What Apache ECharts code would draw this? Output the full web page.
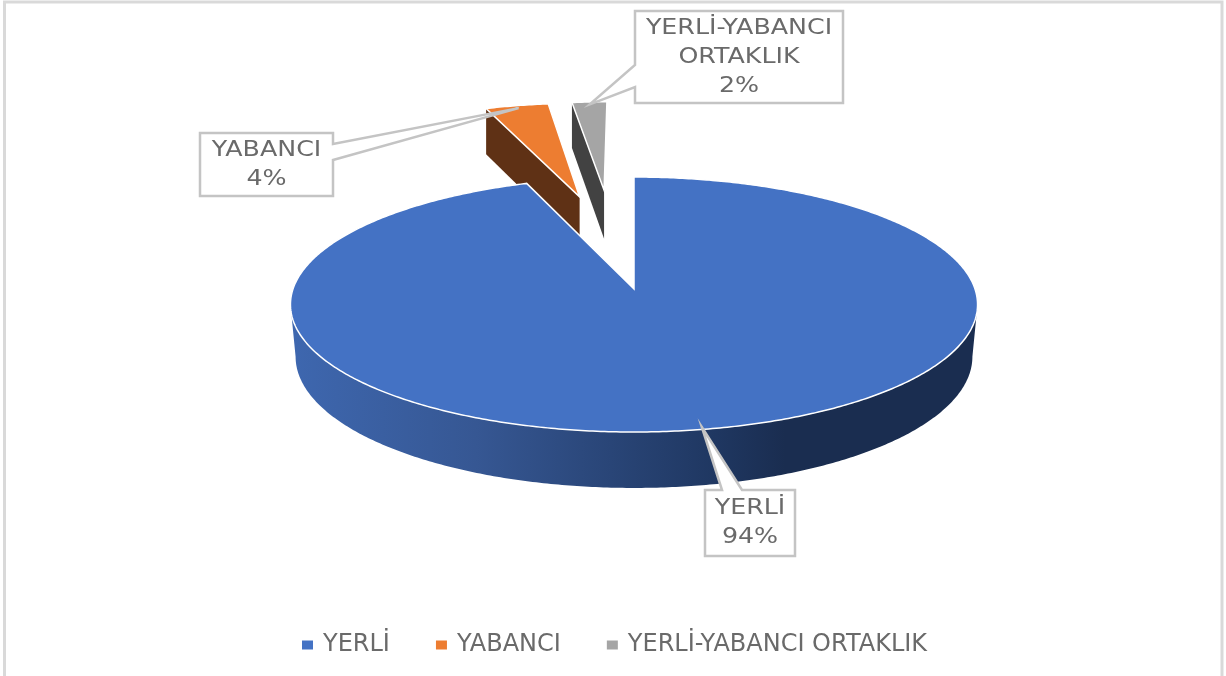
<!DOCTYPE html>
<html><head><meta charset="utf-8">
<style>html,body{margin:0;padding:0;background:#fff}#c{width:1226px;height:676px}</style>
<script src="https://cdn.jsdelivr.net/npm/echarts@6/dist/echarts.min.js"></script>
</head><body><div id="c"></div>
<script>
const categories = ['YERLİ', 'YABANCI', 'YERLİ-YABANCI ORTAKLIK'];
const shares = [94.3, 3.6, 2.1];
const calloutLines = [['YERLİ'], ['YABANCI'], ['YERLİ-YABANCI', 'ORTAKLIK']];
const topColors = ['#4472C4', '#ED7D31', '#A5A5A5'];
const sideColors = ['#2b4a80', '#5F3115', '#424242'];

// disk projection (perspective view of the tilted pie)
const view = {cx: 634, cy: 289, f: 341, g: 125.6, k: 0.1216, depth: 51.7, depthK: 0.076};
// exploded offsets and radius per slice, in disk units
const explode = [{dx: 0, dz: 0, r: 1}, {dx: -0.175, dz: -0.805, r: 1}, {dx: -0.097, dz: -0.87, r: 0.95}];
// callout boxes: box rect and where the pointer leaves it
const boxes = [
  {x: 705, y: 490, w: 90, h: 66, side: 'top', a: 722, b: 742, tip: 0.985},
  {x: 200, y: 133, w: 133, h: 63, side: 'right', a: 144, b: 160, tip: 0.97},
  {x: 635, y: 11, w: 208, h: 92, side: 'left', a: 65, b: 87, tip: 0.97}
];

const total = shares.reduce((a, b) => a + b, 0);
function sliceAngles(i) {
  let s = 0;
  for (let j = 0; j < i; j++) s += shares[j];
  return [s / total * 2 * Math.PI, (s + shares[i]) / total * 2 * Math.PI];
}
function disk(i, t, r) {
  const e = explode[i];
  return [Math.sin(t) * r * e.r + e.dx, -Math.cos(t) * r * e.r + e.dz];
}
function project(X, Z) {
  const w = 1 - view.k * Z;
  return [view.cx + view.f * X / w, view.cy + view.g * Z / w];
}
function projectLow(X, Z, shrink) {
  const p = project(X * (shrink || 1), Z);
  return [p[0], p[1] + view.depth / (1 - view.depthK * Z)];
}
function arc(i, t0, t1, r, fn) {
  const pts = [], n = Math.max(2, Math.ceil(Math.abs(t1 - t0) / 0.01));
  for (let m = 0; m <= n; m++) {
    const d = disk(i, t0 + (t1 - t0) * m / n, r);
    pts.push(fn(d[0], d[1]));
  }
  return pts;
}
function renderSlice(params, api) {
  const i = params.seriesIndex;
  const [a0, a1] = sliceAngles(i);
  const apex = disk(i, 0, 0);
  const children = [];
  if (i === 0) {
    // outer rim, left silhouette round the front to the right silhouette
    const tEx = Math.acos(-view.k);
    const upper = arc(i, tEx, 2 * Math.PI - tEx, 1, project);
    const lower = arc(i, 2 * Math.PI - tEx, tEx, 1, (x, z) => projectLow(x, z, 0.985));
    children.push({
      type: 'polygon', shape: {points: upper.concat(lower)},
      style: {fill: {type: 'linear', x: 0, y: 0, x2: 1, y2: 0, colorStops: [
        {offset: 0, color: '#3e67af'}, {offset: 0.27, color: '#365793'},
        {offset: 0.62, color: '#1f3761'}, {offset: 0.72, color: '#1a2d50'}, {offset: 1, color: '#1a2d50'}]}}
    });
  } else {
    // inner wall facing the viewer's left
    const o = disk(i, a0, 1);
    children.push({
      type: 'polygon',
      shape: {points: [project(apex[0], apex[1]), project(o[0], o[1]), projectLow(o[0], o[1]), projectLow(apex[0], apex[1])]},
      style: {fill: sideColors[i]}
    });
  }
  const top = [project(apex[0], apex[1])].concat(arc(i, a0, a1, 1, project));
  children.push({type: 'polygon', shape: {points: top}, style: {fill: topColors[i], stroke: '#ffffff', lineWidth: 1.5}});
  return {type: 'group', children};
}
function renderCallout(params, api) {
  const i = api.value(0);
  const b = boxes[i];
  const [a0, a1] = sliceAngles(i);
  const d = disk(i, (a0 + a1) / 2, b.tip);
  const tip = project(d[0], d[1]);
  const x1 = b.x + b.w, y1 = b.y + b.h;
  let pts;
  if (b.side === 'top') pts = [[b.x, b.y], [b.a, b.y], tip, [b.b, b.y], [x1, b.y], [x1, y1], [b.x, y1]];
  if (b.side === 'right') pts = [[b.x, b.y], [x1, b.y], [x1, b.a], tip, [x1, b.b], [x1, y1], [b.x, y1]];
  if (b.side === 'left') pts = [[b.x, b.y], [x1, b.y], [x1, y1], [b.x, y1], [b.x, b.b], tip, [b.x, b.a]];
  const text = calloutLines[i].concat(Math.round(api.value(1)) + '%').join('\n');
  return {type: 'group', children: [
    {type: 'polygon', shape: {points: pts}, style: {fill: '#fff', stroke: '#c4c4c4', lineWidth: 2.5, lineJoin: 'miter'}},
    {type: 'text', x: b.x + b.w / 2, y: b.y + b.h / 2, scaleX: 1.15,
     style: {text, align: 'center', verticalAlign: 'middle', fill: '#6a6a6a', font: '22px "DejaVu Sans"', lineHeight: 29}}
  ]};
}
const series = categories.map((name, i) => ({
  type: 'custom', name, coordinateSystem: 'none', z: i === 0 ? 4 : 3,
  itemStyle: {color: topColors[i]}, renderItem: renderSlice, data: [[shares[i]]], silent: true
}));
series.push({
  type: 'custom', name: 'callouts', coordinateSystem: 'none', z: 6, silent: true,
  renderItem: renderCallout, data: shares.map((v, i) => [i, v])
});
const chart = echarts.init(document.getElementById('c'), null, {renderer: 'canvas'});
chart.setOption({
  animation: false, backgroundColor: '#fff',
  legend: {
    data: categories.map(name => ({name, icon: 'rect'})), left: 302, top: 633, itemWidth: 11, itemHeight: 9, itemGap: 46,
    selectedMode: false, textStyle: {color: '#6a6a6a', fontFamily: 'DejaVu Sans', fontSize: 24, padding: [0, 0, 0, 5]}, padding: 0
  },
  graphic: [{type: 'polyline', silent: true, shape: {points: [[4.5, 676], [4.5, 2], [1222, 2], [1222, 676]]},
    style: {stroke: '#d9d9d9', lineWidth: 3, fill: null}}],
  series
});
</script></body></html>
